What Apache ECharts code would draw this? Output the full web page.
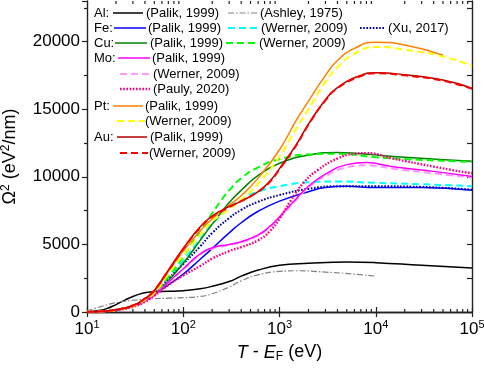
<!DOCTYPE html>
<html>
<head>
<meta charset="UTF-8">
<script src="https://cdn.jsdelivr.net/npm/echarts@6/dist/echarts.min.js"></script>
<title>Omega2</title>
</head>
<body style="margin:0">
<div id="main" style="width: 484px;height:373px;"></div>
<script type="text/javascript">
// data: [T - EF (eV), Omega^2 (eV^2/nm)]
var alPalik = [[10,40],[13,100],[16,250],[20,550],[25,900],[30,1150],[35,1320],[40,1420],[50,1500],[70,1530],[100,1580],[150,1720],[200,1900],[300,2250],[400,2650],[600,3100],[1000,3450],[2000,3600],[5000,3700],[10000,3650],[30000,3450],[100000,3250]];
var alAshley = [[10,80],[13,330],[17,580],[22,740],[30,870],[50,980],[70,1020],[100,1060],[150,1150],[200,1350],[300,1850],[400,2300],[600,2750],[1000,3000],[1500,3050],[3000,2950],[6000,2800],[10000,2650]];
var fePalik = [[10,10],[15,50],[20,140],[30,420],[40,820],[50,1300],[70,2000],[100,2800],[150,3900],[200,4700],[300,5850],[400,6600],[600,7450],[1000,8200],[2000,8900],[3000,9200],[5000,9300],[10000,9200],[30000,9200],[100000,9000]];
var feWerner = [[10,10],[15,60],[20,160],[30,450],[40,850],[50,1350],[70,2400],[100,3800],[150,5400],[200,6500],[300,7700],[400,8300],[600,8900],[1000,9300],[2000,9600],[4000,9650],[10000,9550],[30000,9450],[100000,9300]];
var feXu = [[10,10],[15,60],[20,160],[30,450],[40,850],[50,1350],[70,2450],[100,3550],[150,4850],[200,5850],[300,6950],[400,7550],[600,8150],[1000,8650],[2000,9100],[4000,9300],[10000,9300],[30000,9250],[100000,9050]];
var cuPalik = [[10,10],[15,50],[20,130],[30,400],[40,800],[50,1300],[70,2300],[100,3600],[150,5300],[200,6500],[250,7400],[300,8100],[400,9000],[600,10100],[1000,11000],[2000,11600],[4000,11800],[7000,11700],[20000,11450],[100000,11150]];
var cuWerner = [[10,10],[15,60],[20,160],[30,460],[40,880],[50,1400],[70,2600],[100,4100],[150,6000],[200,7300],[250,8300],[300,9000],[400,9900],[600,10700],[1000,11300],[2000,11650],[4000,11700],[10000,11450],[30000,11250],[100000,11100]];
var moPalik = [[10,10],[15,50],[20,140],[30,420],[40,800],[50,1250],[70,2200],[100,3200],[150,4300],[200,4750],[300,5000],[400,5200],[600,5700],[800,6350],[1000,7050],[1500,8400],[2000,9300],[3000,10200],[5000,10900],[8000,11050],[15000,10750],[40000,10400],[100000,10020]];
var moWerner = [[10,10],[15,50],[20,140],[30,420],[40,800],[50,1250],[70,2200],[100,3150],[150,4250],[200,4700],[300,4950],[400,5150],[600,5650],[800,6300],[1000,6950],[1500,8300],[2000,9200],[3000,10050],[5000,10700],[8000,10850],[15000,10600],[40000,10250],[100000,9950]];
var moPauly = [[10,10],[15,40],[20,120],[30,380],[40,750],[50,1200],[70,2000],[100,2700],[150,3400],[200,3950],[300,4500],[400,4800],[600,5300],[800,6000],[1000,6900],[1300,8200],[1800,9600],[2500,10500],[4000,11350],[6000,11700],[8000,11750],[15000,11350],[40000,10750],[100000,10250]];
var ptPalik = [[10,10],[15,60],[20,170],[30,480],[40,950],[50,1500],[70,3000],[100,4500],[150,6000],[200,6900],[300,7900],[400,8600],[600,9900],[1000,12000],[1500,14200],[2000,15600],[3000,17500],[4000,18600],[6000,19500],[10000,19950],[20000,19750],[50000,19000]];
var ptWerner = [[10,10],[15,50],[20,150],[30,440],[40,880],[50,1400],[70,2800],[100,4200],[150,5700],[200,6700],[300,7600],[400,8300],[600,9500],[1000,11500],[1500,13600],[2000,15000],[3000,17000],[4000,18100],[6000,19100],[10000,19600],[20000,19400],[50000,18900],[100000,18200]];
var auPalik = [[10,10],[15,60],[20,170],[30,480],[40,1000],[50,1600],[70,3100],[100,4700],[150,6300],[200,7100],[300,7800],[400,8200],[600,8900],[800,9700],[1000,10600],[1500,12400],[2000,13900],[3000,15700],[4000,16600],[7000,17500],[10000,17700],[20000,17550],[50000,17150],[100000,16550]];
var auWerner = [[10,10],[15,60],[20,170],[30,480],[40,1000],[50,1600],[70,3050],[100,4650],[150,6250],[200,7050],[300,7750],[400,8200],[600,8900],[800,9650],[1000,10550],[1500,12350],[2000,13850],[3000,15650],[4000,16550],[7000,17450],[10000,17650],[20000,17500],[50000,17100],[100000,16500]];

// minor ticks of the log axis (2..9 in every decade)
var decades = [10, 100, 1000, 10000];
var minorSteps = [2, 3, 4, 5, 6, 7, 8, 9];
var minorTicks = [];
for (var i = 0; i < decades.length; i++) {
	for (var j = 0; j < minorSteps.length; j++) {
		minorTicks.push([decades[i] * minorSteps[j], 0]);
	}
}

var xMin = 10, xMax = 100000, yMin = 0, yMax = 23000;
var FONT = 'Liberation Sans, Arial, sans-serif';
var frame = {lineStyle: {color: '#222', width: 1.4}};

function line(name, data, color, width, type) {
	return {
		name: name,
		type: 'line',
		data: data,
		smooth: 0.5,
		showSymbol: false,
		symbol: 'none',
		lineStyle: {color: color, width: width, type: type || 'solid'}
	};
}

// legend, drawn by hand
var g = [];
function txt(x, y, s) {
	g.push({type: 'text', x: x, y: y, style: {text: s, font: '13px ' + FONT, fill: '#000', verticalAlign: 'middle'}});
}
function smp(x1, x2, y, color, width, dash) {
	g.push({type: 'line', shape: {x1: x1, y1: y, x2: x2, y2: y}, style: {stroke: color, lineWidth: width, lineDash: dash || null}});
}
var DASH = [7, 4], DOT = [1.6, 1.6], DASHDOT = [6, 2, 1.5, 2];
txt(94, 13, 'Al:'); smp(113, 143, 13, '#000', 1.5); txt(146, 13, '(Palik, 1999)');
smp(228, 257, 13, '#808080', 1.2, DASHDOT); txt(260, 13, '(Ashley, 1975)');
txt(94, 28, 'Fe:'); smp(114, 146, 28, '#0000ff', 1.5); txt(148, 28, '(Palik, 1999)');
smp(228, 258, 28, '#00ffff', 2, DASH); txt(261, 28, '(Werner, 2009)');
smp(360, 384, 28, '#0000a0', 2, DOT); txt(388, 28, '(Xu, 2017)');
txt(94, 43, 'Cu:'); smp(115, 147, 43, '#008000', 1.5); txt(150, 43, '(Palik, 1999)');
smp(226, 258, 43, '#00ff00', 2, DASH); txt(259, 43, '(Werner, 2009)');
txt(94, 58, 'Mo:'); smp(118, 150, 58, '#ff00ff', 1.5); txt(152, 58, '(Palik, 1999)');
smp(120, 150, 74, '#ff99ff', 2, DASH); txt(153, 74, '(Werner, 2009)');
smp(120, 150, 89, '#ff0080', 2.4, DOT); txt(153, 89, '(Pauly, 2020)');
txt(94, 106, 'Pt:'); smp(113, 143, 106, '#ff8000', 1.5); txt(145, 106, '(Palik, 1999)');
smp(117, 145, 121, '#ffff00', 2, DASH); txt(145, 121, '(Werner, 2009)');
txt(94, 137, 'Au:'); smp(117, 147, 137, '#b00000', 1.5); txt(150, 137, '(Palik, 1999)');
smp(120, 148, 153, '#ff0000', 2, DASH); txt(149, 153, '(Werner, 2009)');

var myChart = echarts.init(document.getElementById('main'));
myChart.setOption({
	animation: false,
	textStyle: {fontFamily: FONT},
	grid: {left: 87, right: 12, top: 1, bottom: 61, containLabel: false, outerBoundsMode: 'none'},
	xAxis: [
		{
			type: 'log', logBase: 10, min: xMin, max: xMax,
			name: '{i|T} - {i|E}{sub|F} (eV)',
			nameLocation: 'middle', nameGap: 30,
			nameTextStyle: {fontSize: 18, color: '#000', rich: {
				i: {fontSize: 18, fontStyle: 'italic', color: '#000'},
				sub: {fontSize: 12, color: '#000', padding: [9, 0, 0, 0]}
			}},
			axisLine: frame,
			axisTick: {inside: true, length: 5, lineStyle: {color: '#222', width: 1.2}},
			splitLine: {show: false},
			axisLabel: {
				fontSize: 17, color: '#000', margin: 7,
				formatter: function (v) { return '10{sup|' + Math.round(Math.log10(v)) + '}'; },
				rich: {sup: {fontSize: 11, color: '#000', padding: [0, 0, 9, 0]}}
			}
		},
		{
			type: 'log', logBase: 10, min: xMin, max: xMax, position: 'top',
			axisLine: frame,
			axisTick: {inside: true, length: 5, lineStyle: {color: '#222', width: 1.2}},
			axisLabel: {show: false}, splitLine: {show: false}
		}
	],
	yAxis: [
		{
			type: 'value', min: yMin, max: yMax, interval: 5000,
			name: '\u03a9{sup|2} (eV{sup|2}/nm)',
			nameLocation: 'middle', nameGap: 66,
			nameTextStyle: {fontSize: 18, color: '#000', rich: {
				sup: {fontSize: 12, color: '#000', padding: [0, 0, 9, 0]}
			}},
			axisLine: {show: true, lineStyle: {color: '#222', width: 1.4}},
			axisTick: {length: 5, lineStyle: {color: '#222', width: 1.2}},
			minorTick: {show: true, splitNumber: 2, length: 3, lineStyle: {color: '#222', width: 1.2}},
			splitLine: {show: false},
			axisLabel: {
				fontSize: 17, color: '#000', margin: 7,
				formatter: function (v) { return v % 5000 === 0 ? String(v) : ''; }
			}
		},
		{
			type: 'value', min: yMin, max: yMax, interval: 2500, position: 'right',
			axisLine: {show: true, lineStyle: {color: '#222', width: 1.4}},
			axisTick: {inside: true, length: 5, lineStyle: {color: '#222', width: 1.2}},
			axisLabel: {show: false}, splitLine: {show: false}
		}
	],
	graphic: g,
	series: [
		{
			type: 'custom',
			data: minorTicks,
			silent: true,
			renderItem: function (params, api) {
				var b = api.coord([api.value(0), yMin]);
				var t = api.coord([api.value(0), yMax]);
				var st = {stroke: '#222', lineWidth: 1.2};
				return {type: 'group', children: [
					{type: 'line', shape: {x1: b[0], y1: b[1], x2: b[0], y2: b[1] - 3}, style: st},
					{type: 'line', shape: {x1: t[0], y1: t[1], x2: t[0], y2: t[1] + 3}, style: st}
				]};
			}
		},
		line('Al Palik', alPalik, '#000', 1.5),
		line('Al Ashley', alAshley, '#808080', 1.2, DASHDOT),
		line('Fe Palik', fePalik, '#0000ff', 1.5),
		line('Fe Werner', feWerner, '#00ffff', 2, DASH),
		line('Fe Xu', feXu, '#0000a0', 2, DOT),
		line('Cu Palik', cuPalik, '#008000', 1.5),
		line('Cu Werner', cuWerner, '#00ff00', 2, DASH),
		line('Mo Werner', moWerner, '#ff99ff', 2, DASH),
		line('Mo Palik', moPalik, '#ff00ff', 1.5),
		line('Mo Pauly', moPauly, '#ff0080', 2.4, DOT),
		line('Pt Werner', ptWerner, '#ffff00', 2, DASH),
		line('Pt Palik', ptPalik, '#ff8000', 1.5),
		line('Au Palik', auPalik, '#b00000', 1.5),
		line('Au Werner', auWerner, '#ff0000', 2, DASH)
	]
});
</script>
</body>
</html>
